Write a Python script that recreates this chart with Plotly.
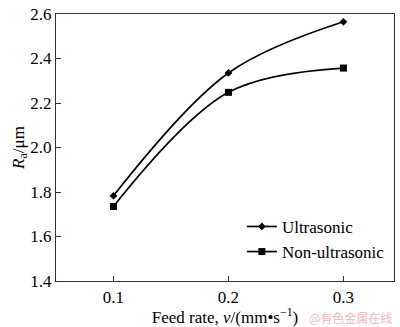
import plotly.graph_objects as go

feed = [0.1, 0.2, 0.3]
ultrasonic = [1.783, 2.335, 2.565]
non_ultrasonic = [1.735, 2.248, 2.357]
y_ticks = [1.4, 1.6, 1.8, 2.0, 2.2, 2.4, 2.6]
x_ticks = [0.1, 0.2, 0.3]

font = "Liberation Serif"
tf = dict(family=font, size=17, color="black")
fig = go.Figure()
fig.add_trace(go.Scatter(x=feed, y=ultrasonic, mode="lines+markers", name="Ultrasonic",
                         line=dict(color="black", width=1.7, shape="spline", smoothing=1),
                         marker=dict(symbol="diamond", size=6, color="black")))
fig.add_trace(go.Scatter(x=feed, y=non_ultrasonic, mode="lines+markers", name="Non-ultrasonic",
                         line=dict(color="black", width=1.7, shape="spline", smoothing=1),
                         marker=dict(symbol="square", size=7, color="black")))

fig.update_layout(
    width=400, height=327, margin=dict(l=56, r=6, t=5, b=46),
    plot_bgcolor="white", paper_bgcolor="white",
    font=tf,
    xaxis=dict(range=[0.05, 0.344], tickmode="array", tickvals=x_ticks, ticktext=["0.1", "0.2", "0.3"],
               tickfont=tf, ticklabeloverflow="allow",
               showline=True, linecolor="#333", linewidth=1.2, mirror=True,
               ticks="inside", ticklen=5, tickcolor="#333", showgrid=False, zeroline=False,
               title=dict(text="Feed rate, <i>v</i>/(mm•s<sup>−1</sup>)", standoff=1, font=tf)),
    yaxis=dict(range=[1.4, 2.6], tickmode="array", tickvals=y_ticks,
               ticktext=[f"{v:.1f}" for v in y_ticks],
               tickfont=tf, ticklabeloverflow="allow",
               showline=True, linecolor="#333", linewidth=1.2, mirror=True,
               ticks="inside", ticklen=5, tickcolor="#333", showgrid=False, zeroline=False,
               title=dict(text="<i>R</i><sub>a</sub>/μm", standoff=1, font=tf)),
    legend=dict(x=0.55, y=0.27, xanchor="left", yanchor="top",
                bgcolor="rgba(0,0,0,0)", tracegroupgap=0, font=tf, itemwidth=30),
    annotations=[dict(text="@有色金属在线", x=1.0, y=0, xref="paper", yref="paper",
                      xanchor="right", yanchor="top", yshift=-26, showarrow=False,
                      font=dict(family="Noto Sans CJK SC", size=12, color="#f0b8b8"))])
fig.write_html("out.html")
